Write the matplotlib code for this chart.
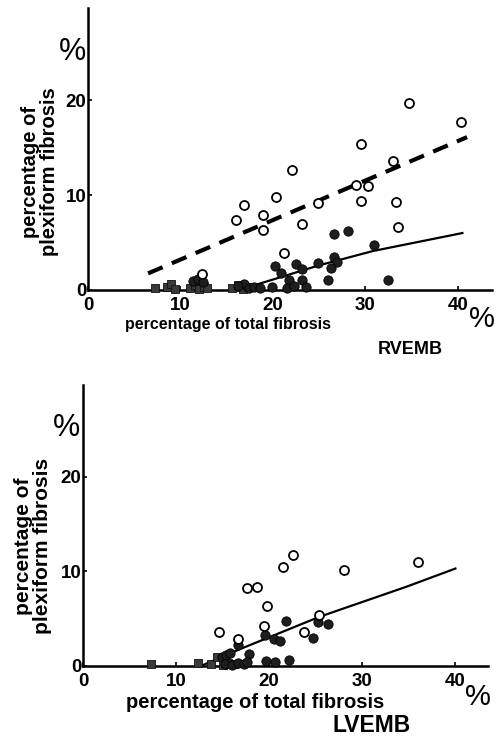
import numpy as np
import matplotlib
matplotlib.use("Agg")
import matplotlib.pyplot as plt

plt.rcParams['font.family'] = ['Liberation Sans', 'DejaVu Sans']

W, H = 497, 738

# --- RVEMB data ---
rv_open_x = [34.7, 40.3, 29.5, 33.0, 22.1, 29.0, 30.3, 20.3, 29.5, 33.3, 24.9, 16.9,
             18.9, 18.9, 23.1, 33.5, 21.2, 16.0, 12.3]
rv_open_y = [19.7, 17.7, 15.4, 13.6, 12.6, 11.1, 11.0, 9.8, 9.4, 9.3, 9.2, 9.0,
             7.9, 6.3, 6.9, 6.6, 3.9, 7.4, 1.7]
rv_fill_x = [26.6, 28.1, 30.9, 32.5, 26.0, 20.2, 20.9, 22.5, 23.2, 24.9, 26.6, 26.9,
             26.3, 23.1, 21.7, 19.9, 21.5, 22.3, 23.6, 16.9, 16.2, 17.4, 18.0, 18.6,
             11.4, 11.9, 12.4]
rv_fill_y = [5.9, 6.2, 4.7, 1.1, 1.1, 2.5, 1.8, 2.7, 2.2, 2.8, 3.5, 2.9,
             2.3, 1.1, 1.1, 0.3, 0.2, 0.4, 0.3, 0.6, 0.4, 0.2, 0.3, 0.2,
             0.9, 1.2, 0.8]
rv_sq_x = [7.2, 8.5, 9.0, 9.4, 11.0, 11.6, 12.0, 12.5, 12.9, 15.6, 16.2, 16.8, 17.3]
rv_sq_y = [0.2, 0.3, 0.6, 0.1, 0.2, 0.5, 0.1, 0.3, 0.2, 0.2, 0.5, 0.1, 0.3]
rv_solid_x = [17.0, 20.0, 25.0, 30.8, 40.5]
rv_solid_y = [0.2, 1.1, 2.6, 4.1, 6.0]
rv_dash_x = [6.5, 41.0]
rv_dash_y = [1.75, 16.1]

# --- LVEMB data ---
lv_open_x = [22.6, 21.5, 36.0, 28.0, 17.6, 18.7, 19.8, 25.4, 19.4, 23.7, 16.7, 14.6]
lv_open_y = [11.7, 10.5, 11.0, 10.1, 8.2, 8.4, 6.3, 5.4, 4.2, 3.6, 2.9, 3.6]
lv_fill_x = [21.8, 25.2, 26.3, 19.6, 20.5, 21.2, 24.7, 17.8, 16.7, 19.7, 20.6, 22.1,
             14.9, 15.4, 15.8, 15.2, 16.0, 16.6, 17.3, 17.6]
lv_fill_y = [4.8, 4.6, 4.4, 3.3, 2.9, 2.6, 3.0, 1.3, 2.2, 0.5, 0.4, 0.6,
             1.0, 1.2, 1.4, 0.2, 0.1, 0.3, 0.2, 0.4]
lv_sq_x = [7.3, 12.4, 13.8, 14.4, 15.0, 15.6, 16.2]
lv_sq_y = [0.2, 0.3, 0.2, 1.0, 0.1, 0.3, 0.2]
lv_solid_x = [12.9, 16.9, 25.4, 34.8, 40.0]
lv_solid_y = [0.1, 1.8, 5.2, 8.4, 10.3]

xticks = [0, 10, 20, 30, 40]
xtick_labels = ['0', '10', '20', '30', '40']
yticks = [0, 10, 20]

fig = plt.figure(figsize=(W / 100, H / 100), dpi=100)


def px(x, y):
    return x / W, 1 - y / H


def setup(ax, xmax):
    ax.set_xlim(0, xmax)
    ax.set_ylim(0, 29.7)
    for s in ['top', 'right']:
        ax.spines[s].set_visible(False)
    for s in ['left', 'bottom']:
        ax.spines[s].set_linewidth(1.8)
    ax.set_xticks(xticks)
    ax.set_xticklabels(xtick_labels)
    ax.set_yticks(yticks)
    ax.tick_params(direction='in', length=3, width=1.2, labelsize=13.5)
    ax.tick_params(axis='x', pad=5)
    ax.tick_params(axis='y', pad=1)
    for lab in ax.get_xticklabels() + ax.get_yticklabels():
        lab.set_fontweight('bold')
    ax.patch.set_alpha(0)


def points(ax, ox, oy, fx, fy, sx, sy):
    ax.scatter(sx, sy, marker='s', s=40, color='#3a3a3a', edgecolor='#111111',
               linewidth=0.6, zorder=4, clip_on=False)
    ax.scatter(fx, fy, marker='o', s=45, color='#1e1e1e', edgecolor='#000000',
               linewidth=0.6, zorder=5, clip_on=False)
    ax.scatter(ox, oy, marker='o', s=42, facecolor='white', edgecolor='black',
               linewidth=1.3, zorder=6, clip_on=False)


# top panel: RVEMB
ax1 = fig.add_axes([88 / W, 1 - 290 / H, 404 / W, 282 / H])
setup(ax1, 43.7)
points(ax1, rv_open_x, rv_open_y, rv_fill_x, rv_fill_y, rv_sq_x, rv_sq_y)
ax1.plot(rv_solid_x, rv_solid_y, color='black', lw=1.6, zorder=3)
ax1.plot(rv_dash_x, rv_dash_y, color='black', lw=3, dashes=(3.8, 2.4), zorder=3)

# bottom panel: LVEMB
ax2 = fig.add_axes([83 / W, 1 - 666 / H, 405 / W, 281 / H])
setup(ax2, 43.5)
points(ax2, lv_open_x, lv_open_y, lv_fill_x, lv_fill_y, lv_sq_x, lv_sq_y)
ax2.plot(lv_solid_x, lv_solid_y, color='black', lw=1.6, zorder=3)

# labels
ylab = 'percentage of\nplexiform fibrosis'
fig.text(*px(40, 172), ylab, rotation=90, ha='center', va='center',
         fontsize=14.5, fontweight='bold', linespacing=1.05)
fig.text(*px(33, 546), ylab, rotation=90, ha='center', va='center',
         fontsize=15, fontweight='bold', linespacing=1.0)

fig.text(*px(228, 325), 'percentage of total fibrosis', ha='center', va='center',
         fontsize=11.5, fontweight='bold')
fig.text(*px(255, 702), 'percentage of total fibrosis', ha='center', va='center',
         fontsize=14.5, fontweight='bold')

fig.text(*px(72, 52), '%', ha='center', va='center', fontsize=22)
fig.text(*px(67, 428), '%', ha='center', va='center', fontsize=22)
fig.text(*px(482, 319), '%', ha='center', va='center', fontsize=21)
fig.text(*px(478, 697), '%', ha='center', va='center', fontsize=21)

fig.text(*px(410, 349), 'RVEMB', ha='center', va='center', fontsize=13, fontweight='bold')
fig.text(*px(372, 725), 'LVEMB', ha='center', va='center', fontsize=16.5, fontweight='bold')

fig.savefig('out.png', dpi=100)
